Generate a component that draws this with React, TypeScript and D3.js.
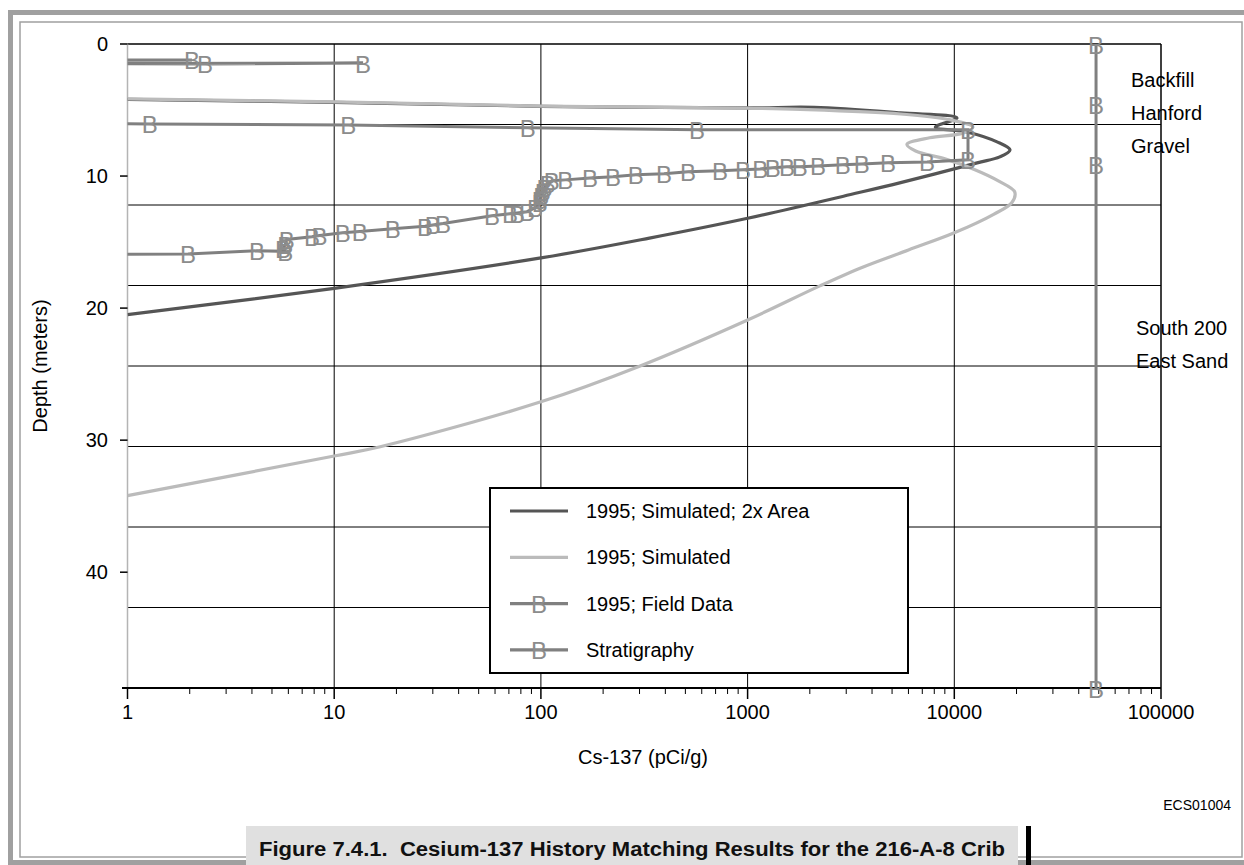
import React from 'react';
import * as d3 from 'd3';

// [Cs-137 pCi/g, depth m]
const sim2xArea: [number, number][] = [
  [1, 4.2], [10, 4.42], [100, 4.72], [1000, 4.84], [2100, 4.8], [5500, 5.22], [10300, 5.6],
  [8100, 6.3], [11500, 6.66], [16100, 7.41], [18600, 8.02], [16600, 8.55], [12900, 9.0],
  [5500, 10.5], [3150, 11.4], [1000, 13.2], [335, 14.7], [100, 16.2], [10, 18.5], [1, 20.5],
];

const simBase: [number, number][] = [
  [1, 4.16], [10, 4.39], [100, 4.7], [1000, 4.86], [1800, 4.95], [5500, 5.3], [9600, 5.75],
  [12300, 6.3], [11000, 6.75], [7600, 7.1], [5900, 7.6], [6500, 8.1], [9000, 8.7],
  [12500, 9.5], [16500, 10.4], [19600, 11.2], [19000, 12.0], [15500, 12.9], [10000, 14.3],
  [6000, 15.6], [3600, 16.9], [2250, 18.3], [1000, 20.9], [300, 24.4], [100, 27.1],
  [16.7, 30.5], [10, 31.2], [1, 34.2],
];

// values below 1 fall off the log axis and get clipped
const fieldData: [number, number][] = [
  [0.001, 1.15], [2.05, 1.21], [0.001, 1.35], [2.37, 1.51], [13.8, 1.44], [0.001, 1.6],
  [0.001, 6.0], [1.28, 6.05], [11.7, 6.13], [86.5, 6.35], [569, 6.5], [11650, 6.5],
  [11650, 8.77], [7380, 8.93], [4780, 9.0], [3570, 9.08], [2890, 9.15], [2190, 9.23],
  [1790, 9.3], [1550, 9.3], [1325, 9.38], [1150, 9.46], [950, 9.53], [735, 9.6], [515, 9.68],
  [394, 9.83], [288, 9.91], [223, 10.06], [173, 10.14], [131, 10.29], [113, 10.36],
  [108, 10.6], [104, 10.9], [102, 11.2], [100.5, 11.5], [98.7, 11.8], [98.7, 12.0],
  [93.6, 12.4], [85.7, 12.7], [76.6, 12.8], [70.8, 12.86], [58, 13.0], [33.6, 13.6],
  [30, 13.7], [27.5, 13.8], [19.2, 14.0], [13.3, 14.2], [11.0, 14.3], [8.5, 14.5],
  [7.8, 14.6], [5.9, 14.8], [5.8, 15.2], [5.65, 15.5], [5.8, 15.7], [4.23, 15.66],
  [1.96, 15.9], [0.001, 16.1],
];

const stratigraphy: [number, number][] = [
  [48500, 0], [48500, 4.57], [48500, 9.14], [48500, 48.77],
];

const layerLabels = [
  { lines: ['Backfill'], depth: 2.75, x: 1131 },
  { lines: ['Hanford', 'Gravel'], depth: 5.25, x: 1131 },
  { lines: ['South 200', 'East Sand'], depth: 21.5, x: 1136 },
];

const xTickValues = [1, 10, 100, 1000, 10000, 100000];
const yTickValues = [0, 10, 20, 30, 40];
const gridFeet = [20, 40, 60, 80, 100, 120, 140];

const legendItems = [
  { label: '1995; Simulated; 2x Area', color: '#555555', marker: false },
  { label: '1995; Simulated', color: '#bbbbbb', marker: false },
  { label: '1995; Field Data', color: '#808080', marker: true },
  { label: 'Stratigraphy', color: '#808080', marker: true },
];

const FONT = '"Liberation Sans", Arial, sans-serif';

export default function App() {
  const W = 1244;
  const H = 865;
  const left = 127.5;
  const right = 1161;
  const top = 44;
  const bottom = 688;

  const x = d3.scaleLog().domain([1, 100000]).range([left, right]);
  const y = d3.scaleLinear().domain([0, 48.77]).range([top, bottom]);
  const yFeet = d3.scaleLinear().domain([0, 160]).range([top, bottom]);

  const smooth = d3
    .line<[number, number]>()
    .x((d) => x(d[0]))
    .y((d) => y(d[1]))
    .curve(d3.curveCatmullRom.alpha(0.5));
  const straight = d3
    .line<[number, number]>()
    .x((d) => x(d[0]))
    .y((d) => y(d[1]));

  const minorTicks: number[] = [];
  for (let e = 0; e < 5; e++) {
    for (let m = 2; m <= 9; m++) minorTicks.push(m * Math.pow(10, e));
  }

  const bMarker = (px: number, py: number, key: string | number) => (
    <text
      key={key}
      x={px}
      y={py + 1}
      textAnchor="middle"
      dominantBaseline="central"
      fontFamily={FONT}
      fontSize={24}
      fill="#8c8c8c"
    >
      B
    </text>
  );

  const visibleField = fieldData.filter((d) => d[0] >= 1);

  const legX = 490;
  const legY = 488;

  return (
    <svg width={W} height={H} style={{ position: 'absolute', left: 0, top: 0, background: '#fff' }}>
      <rect x={0} y={0} width={W} height={H} fill="#fff" />
      {/* frame */}
      <rect x={10.5} y={12.5} width={1240} height={850} fill="none" stroke="#a0a0a0" strokeWidth={5} />
      <rect x={20} y={22} width={1222} height={835} fill="none" stroke="#a0a0a0" strokeWidth={1.5} />

      <defs>
        <clipPath id="plot">
          <rect x={left} y={top} width={right - left} height={bottom - top} />
        </clipPath>
      </defs>

      {/* gridlines */}
      {xTickValues.slice(1, -1).map((v) => (
        <line key={'gx' + v} x1={x(v)} x2={x(v)} y1={top} y2={bottom} stroke="#000" strokeWidth={1} />
      ))}
      {gridFeet.map((f) => (
        <line key={'gy' + f} x1={left} x2={right} y1={yFeet(f)} y2={yFeet(f)} stroke="#000" strokeWidth={1} />
      ))}
      <line x1={left} x2={right} y1={top} y2={top} stroke="#000" strokeWidth={1.5} />
      <line x1={right} x2={right} y1={top} y2={bottom} stroke="#000" strokeWidth={1.5} />
      <line x1={left} x2={left} y1={top} y2={bottom} stroke="#b4b4b4" strokeWidth={1.5} />

      {/* y ticks */}
      {yTickValues.map((v) => (
        <g key={'yt' + v}>
          <line x1={120} x2={left} y1={y(v)} y2={y(v)} stroke="#000" strokeWidth={1.5} />
          <text x={108} y={y(v)} textAnchor="end" dominantBaseline="central" fontFamily={FONT} fontSize={20} fill="#000">
            {v}
          </text>
        </g>
      ))}

      {/* x axis */}
      <line x1={122} x2={right} y1={bottom} y2={bottom} stroke="#000" strokeWidth={2} />
      {minorTicks.map((v) => (
        <line key={'mt' + v} x1={x(v)} x2={x(v)} y1={bottom} y2={bottom + 6} stroke="#000" strokeWidth={1} />
      ))}
      {xTickValues.map((v) => (
        <g key={'xt' + v}>
          <line x1={x(v)} x2={x(v)} y1={bottom} y2={bottom + 11} stroke="#000" strokeWidth={1.5} />
          <text x={x(v)} y={712} textAnchor="middle" dominantBaseline="central" fontFamily={FONT} fontSize={20} fill="#000">
            {v}
          </text>
        </g>
      ))}

      {/* series */}
      <g clipPath="url(#plot)">
        <path d={smooth(sim2xArea) || ''} fill="none" stroke="#555555" strokeWidth={3.2} />
        <path d={smooth(simBase) || ''} fill="none" stroke="#bbbbbb" strokeWidth={3.2} />
        <path d={straight(fieldData) || ''} fill="none" stroke="#808080" strokeWidth={3} />
      </g>
      {visibleField.map((d, i) => bMarker(x(d[0]), y(d[1]), 'f' + i))}
      <path d={straight(stratigraphy) || ''} fill="none" stroke="#808080" strokeWidth={3} />
      {stratigraphy.map((d, i) => bMarker(x(d[0]), y(d[1]), 's' + i))}

      {/* layer labels */}
      {layerLabels.map((l) =>
        l.lines.map((t, i) => (
          <text
            key={t}
            x={l.x}
            y={y(l.depth) + i * 33}
            dominantBaseline="central"
            fontFamily={FONT}
            fontSize={20}
            fill="#000"
          >
            {t}
          </text>
        ))
      )}

      {/* legend */}
      <rect x={legX} y={legY} width={418} height={185} fill="#fff" stroke="#000" strokeWidth={2} />
      {legendItems.map((item, i) => {
        const cy = 511 + i * 46.3;
        return (
          <g key={item.label}>
            <line x1={510} x2={568} y1={cy} y2={cy} stroke={item.color} strokeWidth={3.2} />
            {item.marker && bMarker(539, cy, 'lm' + i)}
            <text x={586} y={cy} dominantBaseline="central" fontFamily={FONT} fontSize={20} fill="#000">
              {item.label}
            </text>
          </g>
        );
      })}

      {/* axis titles */}
      <text
        transform={`translate(40,${366}) rotate(-90)`}
        textAnchor="middle"
        dominantBaseline="central"
        fontFamily={FONT}
        fontSize={20}
        fill="#000"
      >
        Depth (meters)
      </text>
      <text x={643} y={757} textAnchor="middle" dominantBaseline="central" fontFamily={FONT} fontSize={20} fill="#000">
        Cs-137 (pCi/g)
      </text>
      <text x={1231} y={805} textAnchor="end" dominantBaseline="central" fontFamily={FONT} fontSize={14} fill="#000">
        ECS01004
      </text>

      {/* caption */}
      <rect x={246} y={826} width={772} height={40} fill="#e0e0e0" />
      <rect x={1026} y={826} width={5} height={40} fill="#000" />
      <text
        x={632}
        y={849}
        textAnchor="middle"
        dominantBaseline="central"
        fontFamily='"Liberation Sans Narrow", "Arial Narrow", "Liberation Sans", sans-serif'
        fontWeight="bold"
        fontSize={20}
        textLength={746}
        lengthAdjust="spacingAndGlyphs"
        fill="#111"
        style={{ whiteSpace: 'pre' }}
      >
        {'Figure 7.4.1.  Cesium-137 History Matching Results for the 216-A-8 Crib'}
      </text>
    </svg>
  );
}
